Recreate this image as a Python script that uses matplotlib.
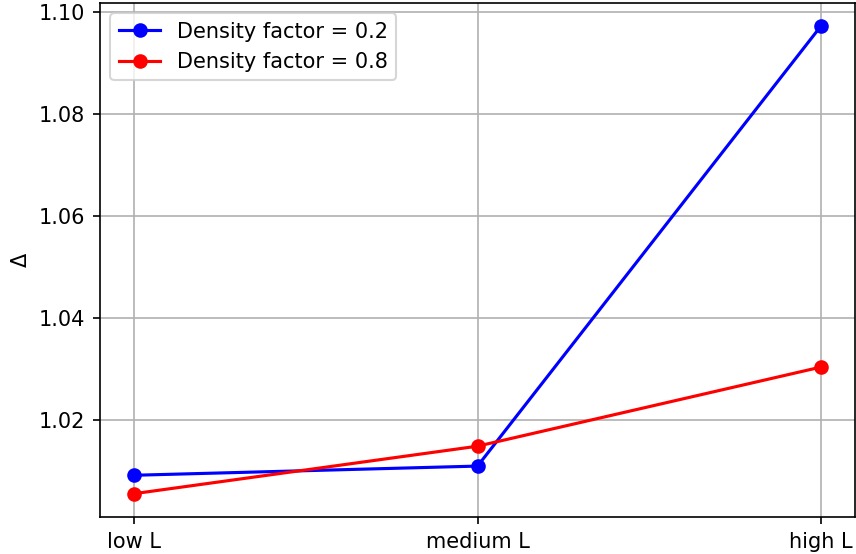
import matplotlib.pyplot as plt

# Values
categories = ['low L', 'medium L', 'high L']
delta_02 = [1.0092, 1.0110, 1.0972]
delta_08 = [1.0056, 1.0149, 1.0304]
yticks = [1.02, 1.04, 1.06, 1.08, 1.10]

fig = plt.figure(figsize=(857 / 150, 554 / 150), dpi=150)
ax = fig.add_axes([0.1167, 0.0668, 0.8810, 0.9278])

x = range(len(categories))
ax.plot(x, delta_02, 'o-', color='blue', label='Density factor = 0.2')
ax.plot(x, delta_08, 'o-', color='red', label='Density factor = 0.8')

ax.set_xticks(list(x))
ax.set_xticklabels(categories)
ax.set_yticks(yticks)
ax.set_ylabel('Δ')
ax.grid(True)
ax.legend(loc='upper left')

fig.savefig('out.png', dpi=150)
